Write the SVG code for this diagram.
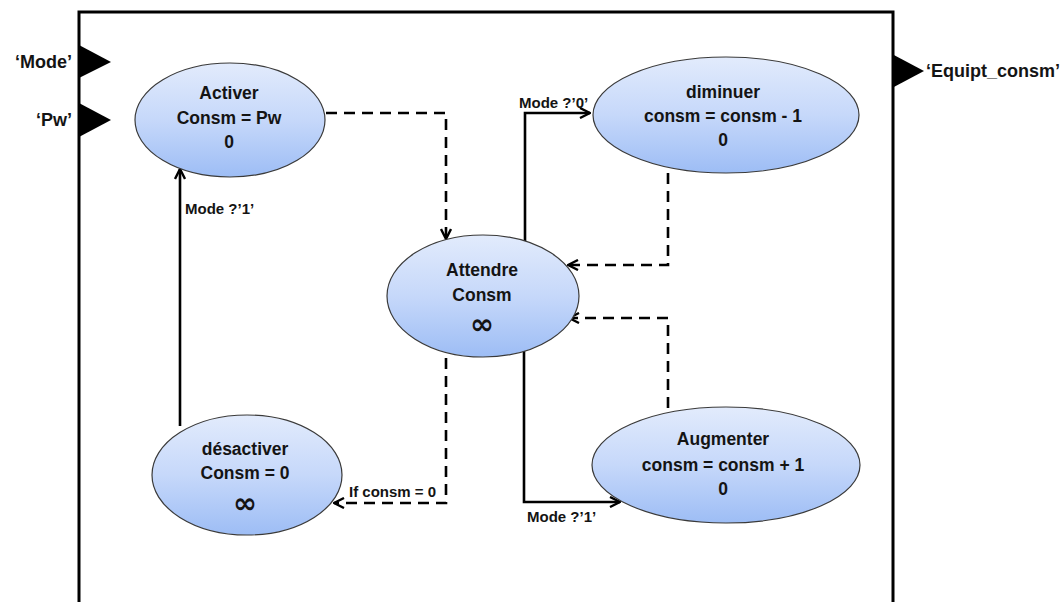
<svg xmlns="http://www.w3.org/2000/svg" width="1061" height="602" viewBox="0 0 1061 602">
  <defs>
    <linearGradient id="stateFill" x1="0" y1="0" x2="0" y2="1">
      <stop offset="0" stop-color="#e2ebfc"/>
      <stop offset="0.5" stop-color="#c6d8fa"/>
      <stop offset="1" stop-color="#9dbdf5"/>
    </linearGradient>
    <marker id="openArrow" viewBox="0 0 12 12" refX="11" refY="6" markerWidth="12" markerHeight="12" markerUnits="userSpaceOnUse" orient="auto">
      <path d="M1,1 L11,6 L1,11" fill="none" stroke="#000" stroke-width="2.4"/>
    </marker>
  </defs>
  <style>
    .state { fill: url(#stateFill); stroke: #3a3a3a; stroke-width: 1.2; }
    .txt { font-family: "Liberation Sans", Arial, sans-serif; font-weight: bold; font-size: 17.5px; fill: #141414; text-anchor: middle; }
    .inf { font-family: "DejaVu Sans", sans-serif; font-weight: bold; font-size: 29px; fill: #141414; text-anchor: middle; }
    .lbl { font-family: "Liberation Sans", Arial, sans-serif; font-weight: bold; font-size: 15px; fill: #141414; }
    .port { font-family: "Liberation Sans", Arial, sans-serif; font-weight: bold; font-size: 18px; fill: #141414; }
    .solid { fill: none; stroke: #000; stroke-width: 2.6; marker-end: url(#openArrow); }
    .dash { fill: none; stroke: #000; stroke-width: 2.6; stroke-dasharray: 11 7; marker-end: url(#openArrow); }
  </style>

  <rect x="0" y="0" width="1061" height="602" fill="#fff"/>

  <!-- model frame with ports -->
  <g id="frame">
    <path d="M79,602 L79,12 L893,12 L893,602" fill="none" stroke="#000" stroke-width="3"/>
    <polygon points="79,45 111,62 79,78" fill="#000"/>
    <polygon points="79,103 111,120 79,137" fill="#000"/>
    <polygon points="892,54 924,71 892,88" fill="#000"/>
    <text class="port" x="72" y="68" text-anchor="end">‘Mode’</text>
    <text class="port" x="72" y="126" text-anchor="end">‘Pw’</text>
    <text class="port" x="926" y="77">‘Equipt_consm’</text>
  </g>

  <!-- transitions -->
  <g id="connectors">
    <path class="dash" d="M326,113 L446,113 L446,239"/>
    <path class="solid" d="M525,241 L525,113 L590,113"/>
    <path class="dash" d="M668,173 L668,265 L568,265"/>
    <path class="dash" d="M668,408 L668,318 L569,318"/>
    <path class="solid" d="M524,351 L524,502 L620,502"/>
    <path class="dash" d="M446,358 L446,503 L334,503"/>
    <path class="solid" d="M180,426 L180,169"/>
    <text class="lbl" x="519" y="108">Mode ?’0’</text>
    <text class="lbl" x="527" y="522">Mode ?’1’</text>
    <text class="lbl" x="349" y="497">If consm = 0</text>
    <text class="lbl" x="185" y="214">Mode ?’1’</text>
  </g>

  <g id="activer">
    <ellipse class="state" cx="230" cy="120" rx="95" ry="57"/>
    <text class="txt" x="229" y="99">Activer</text>
    <text class="txt" x="229" y="124">Consm = Pw</text>
    <text class="txt" x="229" y="148">0</text>
  </g>

  <g id="attendre">
    <ellipse class="state" cx="483" cy="296" rx="96" ry="61"/>
    <text class="txt" x="482" y="276">Attendre</text>
    <text class="txt" x="482" y="301">Consm</text>
    <text class="inf" x="482" y="334">∞</text>
  </g>

  <g id="diminuer">
    <ellipse class="state" cx="726" cy="115" rx="133" ry="58"/>
    <text class="txt" x="723" y="98">diminuer</text>
    <text class="txt" x="723" y="122">consm = consm - 1</text>
    <text class="txt" x="723" y="146">0</text>
  </g>

  <g id="desactiver">
    <ellipse class="state" cx="247" cy="475" rx="95" ry="60"/>
    <text class="txt" x="245" y="455">désactiver</text>
    <text class="txt" x="245" y="479">Consm = 0</text>
    <text class="inf" x="245" y="513">∞</text>
  </g>

  <g id="augmenter">
    <ellipse class="state" cx="726" cy="465" rx="134" ry="58"/>
    <text class="txt" x="723" y="445">Augmenter</text>
    <text class="txt" x="723" y="471">consm = consm + 1</text>
    <text class="txt" x="723" y="495">0</text>
  </g>
</svg>
